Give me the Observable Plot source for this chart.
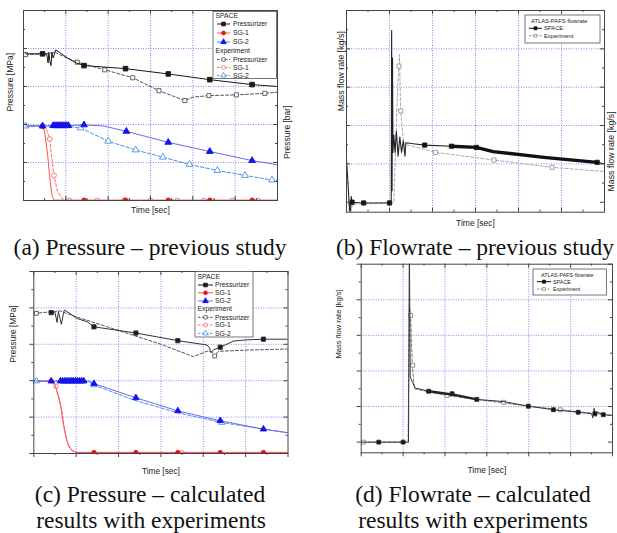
<!DOCTYPE html>
<html><head><meta charset="utf-8">
<script src="https://cdn.jsdelivr.net/npm/d3@7"></script>
<script src="https://cdn.jsdelivr.net/npm/@observablehq/plot@0.6"></script>
<style>
html,body{margin:0;padding:0;background:#fff;}
#root{position:relative;width:617px;height:533px;overflow:hidden;background:#fff;}
#root > svg{position:absolute;}
</style></head><body><div id="root"></div>
<script>
// ---------- shared ticks (no numeric labels in the source figure) ----------
const xMajor = [0, 1, 2, 3, 4, 5, 6];
const xMinor = [0.5, 1.5, 2.5, 3.5, 4.5, 5.5];
const xGrid = [1, 2, 3, 4, 5];
const yMajor = [0, 1, 2, 3, 4, 5];
const yMinor = [0.5, 1.5, 2.5, 3.5, 4.5];
const yGrid = [1, 2, 3, 4];

// ---------- text ----------
const captions = {
  a: ["(a) Pressure – previous study"],
  b: ["(b) Flowrate – previous study"],
  c: ["(c) Pressure – calculated", "results with experiments"],
  d: ["(d) Flowrate – calculated", "results with experiments"]
};
const pressureNames = ["Pressurizer", "SG-1", "SG-2"];
const flowNames = ["SPACE", "Experiment"];

// ---------- (a) pressure, previous study ----------
const aSpacePzr = [[0.05,3.86],[0.45,3.86],[0.55,3.85],[0.58,3.62],[0.6,3.9],[0.62,3.68],[0.65,3.55],[0.67,3.9],[0.7,3.75],[0.76,3.96],[0.85,3.9],[1.04,3.75],[1.25,3.62],[1.43,3.55],[2.41,3.47],[3.42,3.33],[4.4,3.18],[5.4,3.05],[6,3.0]];
const aSpacePzrM = [[0.45,3.86],[1.43,3.55],[2.41,3.47],[3.42,3.33],[4.4,3.18],[5.4,3.05]];
const aExpPzr = [[0.05,3.84],[0.5,3.86],[0.75,3.9],[1.0,3.76],[1.27,3.64],[1.92,3.44],[2.58,3.23],[3.2,2.89],[3.81,2.63],[4.0,2.72],[4.38,2.76],[5.03,2.78],[5.7,2.82],[6,2.85]];
const aExpPzrM = [[0.05,3.84],[1.27,3.64],[1.92,3.44],[2.58,3.23],[3.2,2.89],[3.81,2.63],[4.38,2.76],[5.03,2.78],[5.7,2.82]];
const aSpaceSG1 = [[0.05,1.96],[0.45,1.96],[0.5,1.8],[0.57,1.2],[0.63,0.5],[0.68,0.1],[0.72,0.01],[6,0.01]];
const aSpaceSG1M = [[0.45,1.96],[1.43,0.01],[2.41,0.01],[3.42,0.01],[4.4,0.01],[5.4,0.01]];
const aExpSG1 = [[0.45,1.95],[0.55,1.85],[0.62,1.62],[0.67,1.1],[0.72,0.66],[0.8,0.25],[0.92,0.04],[1.08,0.0],[6,0.0]];
const aExpSG1M = [[0.45,1.95],[0.62,1.62],[0.72,0.66],[1.08,0],[1.74,0],[2.37,0],[3.0,0],[3.63,0],[4.26,0],[4.93,0],[5.54,0]];
const aSpaceSG2 = [[0.05,1.96],[0.45,1.96],[1.07,1.97],[1.43,1.99],[1.9,1.96],[2.43,1.82],[3.42,1.53],[4.4,1.29],[5.4,1.05],[6,0.94]];
const aSpaceSG2M = [[0.45,1.96],[0.7,1.97],[0.74,1.97],[0.78,1.97],[0.82,1.97],[0.86,1.97],[0.9,1.97],[0.94,1.97],[0.98,1.97],[1.02,1.97],[1.06,1.97],[1.43,1.99],[2.43,1.82],[3.42,1.53],[4.4,1.29],[5.4,1.05]];
const aExpSG2 = [[0.05,1.96],[1.0,1.96],[1.35,1.91],[2.0,1.56],[2.65,1.33],[3.29,1.14],[3.92,0.95],[4.58,0.79],[5.23,0.66],[5.87,0.54],[6,0.53]];
const aExpSG2M = [[0.05,1.96],[1.35,1.91],[2.0,1.56],[2.65,1.33],[3.29,1.14],[3.92,0.95],[4.58,0.79],[5.23,0.66],[5.87,0.54]];

// ---------- (b) flowrate, previous study ----------
const bSpace = [[0,1.1],[0.03,0.6],[0.06,0.0],[0.09,-0.4],[0.11,0.15],[0.13,0.0],[0.4,-0.02],[1.0,-0.02],[1.04,0.0],[1.05,4.48],[1.06,0.3],[1.07,3.76],[1.08,1.3],[1.1,1.75],[1.13,1.3],[1.16,1.85],[1.2,1.2],[1.24,1.7],[1.28,1.3],[1.32,1.6],[1.36,1.2],[1.38,1.55],[1.6,1.52],[1.82,1.49],[2.44,1.46],[3.02,1.43],[3.41,1.32],[4.59,1.17],[5.83,1.04],[6,1.0]];
const bSpaceM = [[0.13,0],[0.4,-0.02],[1.0,-0.02],[1.82,1.49],[2.44,1.46],[3.02,1.43],[5.83,1.04]];
const bExp = [[0.05,-0.2],[0.1,-0.05],[1.1,0],[1.19,3.0],[1.22,3.55],[1.23,3.85],[1.26,2.38],[1.33,1.52],[2.07,1.3],[3.43,1.1],[4.78,0.91],[6,0.8]];
const bExpM = [[0.1,-0.05],[1.22,3.55],[1.26,2.38],[2.07,1.3],[3.43,1.1],[4.78,0.91]];

// ---------- (c) pressure, calculated vs experiment ----------
const cSpacePzr = [[0.41,3.87],[0.5,3.88],[0.55,3.6],[0.58,3.9],[0.62,3.7],[0.65,3.55],[0.7,3.85],[0.72,3.94],[0.85,3.85],[1.02,3.71],[1.26,3.62],[1.42,3.48],[2.41,3.31],[3.4,3.1],[4.09,2.98],[4.15,2.9],[4.18,2.77],[4.25,2.85],[4.4,2.92],[4.72,3.09],[5.0,3.12],[5.42,3.14],[6,3.14]];
const cSpacePzrM = [[0.41,3.87],[1.42,3.48],[2.41,3.31],[3.4,3.1],[4.4,2.92],[5.42,3.14]];
const cExpPzr = [[0,3.85],[0.39,3.89],[0.6,3.92],[1.02,3.75],[2.0,3.38],[3.0,3.0],[3.77,2.66],[4.09,2.81],[4.2,2.8],[4.27,2.68],[4.35,2.8],[4.4,2.81],[5.0,2.84],[6,2.87]];
const cExpPzrM = [[0.06,3.85],[4.27,2.68]];
const cSpaceSG1 = [[0,1.99],[0.41,1.99],[0.5,1.9],[0.57,1.6],[0.63,1.33],[0.7,0.8],[0.75,0.5],[0.82,0.2],[0.9,0.09],[1.02,0.03],[6,0.03]];
const cSpaceSG1M = [[0.41,1.99],[1.42,0.03],[2.41,0.03],[3.4,0.03],[4.4,0.03],[5.42,0.03]];
const cExpSG1 = [[0,1.99],[0.45,1.97],[0.52,1.85],[0.6,1.5],[0.66,1.2],[0.72,0.7],[0.78,0.35],[0.88,0.1],[1.0,0.02],[6,0.02]];
const cExpSG1M = [[0.52,1.85],[3.5,0.02]];
const cSpaceSG2 = [[0,1.99],[1.3,1.99],[1.42,1.92],[2.41,1.53],[3.4,1.17],[4.4,0.9],[5.42,0.67],[6,0.57]];
const cSpaceSG2M = [[0.41,1.99],[0.63,1.99],[0.68,1.99],[0.73,1.99],[0.78,1.99],[0.83,1.99],[0.88,1.99],[0.93,1.99],[0.98,1.99],[1.03,1.99],[1.08,1.99],[1.13,1.99],[1.18,1.99],[1.42,1.92],[2.41,1.53],[3.4,1.17],[4.4,0.9],[5.42,0.67]];
const cExpSG2 = [[0,1.99],[1.3,1.98],[1.42,1.88],[2.36,1.47],[3.4,1.12],[4.44,0.85],[5.42,0.67],[6,0.57]];
const cExpSG2M = [[0.06,1.99],[1.42,1.88],[4.44,0.85]];

// ---------- (d) flowrate, calculated vs experiment ----------
const dSpace = [[0,0],[1.0,0],[1.13,0],[1.15,5.6],[1.17,1.83],[1.29,1.52],[1.61,1.43],[2.17,1.34],[2.76,1.2],[3.4,1.14],[3.99,1.01],[4.59,0.91],[5.18,0.84],[5.5,0.8],[5.53,0.68],[5.56,0.95],[5.6,0.72],[5.63,0.85],[5.78,0.77],[6,0.75]];
const dSpaceM = [[0.42,0],[1.0,0],[1.61,1.43],[2.17,1.36],[2.76,1.2],[3.99,1.01],[4.59,0.91],[5.18,0.84],[5.58,0.8],[5.78,0.77]];
const dExp = [[0.05,0],[1.12,0],[1.15,3.84],[1.18,3.56],[1.22,2.16],[1.27,1.5],[2.05,1.31],[3.4,1.1],[4.75,0.91],[6,0.75]];
const dExpM = [[0.05,0],[1.18,3.56],[1.23,2.16],[2.05,1.31],[3.4,1.12],[4.75,0.91]];

// ---------- styles ----------
const GRID = "#7a7aee", FRAME = "#444";
const C = {
  pzrS: "#1a1a1a", pzrE: "#555555",
  sg1S: "#f25555", sg1M: "#e81010", sg1E: "#ff6a6a",
  sg2S: "#6a6aee", sg2M: "#1414e6", sg2E: "#4a90e2",
  flowS: "#111111", flowE: "#8a8a8a"
};
const FONT = "Liberation Sans, Arial, sans-serif";
const P = d => d[0], Q = d => d[1];

function series(data, marks, {stroke, width = 1, dash = null, mdata, symbol, fill, mstroke, r = 2.6}) {
  const out = [Plot.line(data, {x: P, y: Q, stroke, strokeWidth: width, strokeDasharray: dash, clip: true})];
  if (mdata) out.push(Plot.dot(mdata, {x: P, y: Q, symbol, r, fill, stroke: mstroke || stroke, strokeWidth: 0.9, clip: true}));
  return out;
}

function panel(cfg) {
  const {left, top, width, height, mt, mr, mb, ml, yDomain, marks, xLabel, yLabel, rightLabel, outward} = cfg;
  const fh = height - mt - mb, fw = width - ml - mr;
  const tick = [];
  const maj = 4, mn = 2;
  // top & right: inward
  tick.push(Plot.ruleX(xMajor, {x: d => d, insetBottom: fh - maj, stroke: FRAME}));
  tick.push(Plot.ruleX(xMinor, {x: d => d, insetBottom: fh - mn, stroke: FRAME}));
  tick.push(Plot.ruleY(yMajor.filter(v => v >= yDomain[0]), {y: d => d, insetLeft: fw - maj, stroke: FRAME}));
  tick.push(Plot.ruleY(yMinor, {y: d => d, insetLeft: fw - mn, stroke: FRAME}));
  if (outward) {
    tick.push(Plot.ruleX(xMajor, {x: d => d, insetTop: fh, insetBottom: -maj, stroke: FRAME}));
    tick.push(Plot.ruleX(xMinor, {x: d => d, insetTop: fh, insetBottom: -mn, stroke: FRAME}));
    tick.push(Plot.ruleY(yMajor, {y: d => d, insetRight: fw, insetLeft: -maj, stroke: FRAME}));
    tick.push(Plot.ruleY(yMinor, {y: d => d, insetRight: fw, insetLeft: -mn, stroke: FRAME}));
  } else {
    tick.push(Plot.ruleX(xMajor, {x: d => d, insetTop: fh - maj, stroke: FRAME}));
    tick.push(Plot.ruleX(xMinor, {x: d => d, insetTop: fh - mn, stroke: FRAME}));
    tick.push(Plot.ruleY(yMajor.filter(v => v >= yDomain[0]), {y: d => d, insetRight: fw - maj, stroke: FRAME}));
    tick.push(Plot.ruleY(yMinor, {y: d => d, insetRight: fw - mn, stroke: FRAME}));
  }
  const labels = [
    Plot.text([xLabel.text], {text: d => d, frameAnchor: "bottom", dy: xLabel.dy, fontSize: xLabel.size, fill: "#222"}),
    Plot.text([yLabel.text], {text: d => d, frameAnchor: "left", rotate: -90, dx: yLabel.dx, dy: yLabel.dy || 0, fontSize: yLabel.size, fill: "#222"})
  ];
  if (rightLabel) labels.push(Plot.text([rightLabel.text], {text: d => d, frameAnchor: "right", rotate: -90, dx: rightLabel.dx, dy: rightLabel.dy || 0, fontSize: rightLabel.size, fill: "#222"}));
  const svg = Plot.plot({
    width, height, marginTop: mt, marginRight: mr, marginBottom: mb, marginLeft: ml,
    x: {domain: [0, 6], axis: null},
    y: {domain: yDomain, axis: null},
    style: {background: "transparent", fontFamily: FONT, overflow: "visible"},
    marks: [
      Plot.ruleX(xGrid, {x: d => d, stroke: GRID, strokeWidth: 0.9, strokeDasharray: "1,1.5"}),
      Plot.ruleY(yGrid, {y: d => d, stroke: GRID, strokeWidth: 0.9, strokeDasharray: "1,1.5"}),
      ...marks,
      Plot.frame({stroke: FRAME, strokeWidth: 1}),
      ...tick,
      ...labels
    ]
  });
  svg.style.left = left + "px";
  svg.style.top = top + "px";
  document.getElementById("root").appendChild(svg);
}

// (a)
panel({left: 0, top: 0, width: 300, height: 230, mt: 10, mr: 23, mb: 30, ml: 23, yDomain: [0, 5],
  xLabel: {text: "Time [sec]", dy: 12, size: 8.5},
  yLabel: {text: "Pressure [MPa]", dx: -13, dy: 6, size: 8.5},
  rightLabel: {text: "Pressure [bar]", dx: 10, dy: 0, size: 8.5},
  marks: [
    ...series(aExpSG1, null, {stroke: C.sg1E, dash: "3,2", mdata: aExpSG1M, symbol: "circle", fill: "white", r: 2.4}),
    ...series(aSpaceSG1, null, {stroke: C.sg1S, mdata: aSpaceSG1M, symbol: "circle", fill: C.sg1M, mstroke: C.sg1M, r: 2.2}),
    ...series(aExpSG2, null, {stroke: C.sg2E, dash: "3.5,2", mdata: aExpSG2M, symbol: "triangle", fill: "white", r: 2.5}),
    ...series(aSpaceSG2, null, {stroke: C.sg2S, mdata: aSpaceSG2M, symbol: "triangle", fill: C.sg2M, mstroke: C.sg2M, r: 2.5}),
    ...series(aExpPzr, null, {stroke: C.pzrE, dash: "3,2", mdata: aExpPzrM, symbol: "square", fill: "white", r: 2.3}),
    ...series(aSpacePzr, null, {stroke: C.pzrS, mdata: aSpacePzrM, symbol: "square", fill: C.pzrS, r: 2.6})
  ]});

// (b)
panel({left: 300, top: 0, width: 317, height: 235, mt: 10, mr: 13, mb: 23.3, ml: 46, yDomain: [-0.26, 5],
  xLabel: {text: "Time [sec]", dy: 14, size: 8.5},
  yLabel: {text: "Mass flow rate [kg/s]", dx: -5, dy: 0, size: 8.8},
  rightLabel: {text: "Mass flow rate [kg/s]", dx: 7, dy: 0, size: 8.8},
  marks: [
    ...series(bExp, null, {stroke: "#aaaaaa", dash: "3,2", mdata: bExpM, symbol: "square", fill: "white", mstroke: "#999", r: 2.3}),
    ...series(bSpace, null, {stroke: "#222", width: 1.1, mdata: bSpaceM, symbol: "square", fill: C.flowS, r: 2.4}),
    Plot.line(bSpace.filter(d => d[0] >= 2.3 && d[0] <= 5.9), {x: P, y: Q, stroke: "#111", strokeWidth: 3.4})
  ]});

// (c)
panel({left: 0, top: 262, width: 300, height: 220, mt: 9, mr: 12.5, mb: 29, ml: 33.3, yDomain: [0, 5], outward: true,
  xLabel: {text: "Time [sec]", dy: 20, size: 8.3},
  yLabel: {text: "Pressure [MPa]", dx: -20, dy: 0, size: 8.3},
  marks: [
    ...series(cExpSG1, null, {stroke: C.sg1E, dash: "3,2", mdata: cExpSG1M, symbol: "circle", fill: "white", r: 2.3}),
    ...series(cSpaceSG1, null, {stroke: C.sg1S, mdata: cSpaceSG1M, symbol: "circle", fill: C.sg1M, mstroke: C.sg1M, r: 2.1}),
    ...series(cExpSG2, null, {stroke: C.sg2E, dash: "3.5,2", mdata: cExpSG2M, symbol: "triangle", fill: "white", r: 2.3}),
    ...series(cSpaceSG2, null, {stroke: C.sg2S, mdata: cSpaceSG2M, symbol: "triangle", fill: C.sg2M, mstroke: C.sg2M, r: 2.4}),
    ...series(cExpPzr, null, {stroke: C.pzrE, dash: "3,2", mdata: cExpPzrM, symbol: "square", fill: "white", r: 2.2}),
    ...series(cSpacePzr, null, {stroke: "#333", mdata: cSpacePzrM, symbol: "square", fill: C.pzrS, r: 2.4})
  ]});

// (d)
panel({left: 300, top: 262, width: 317, height: 220, mt: 1.7, mr: 5, mb: 29.7, ml: 60.7, yDomain: [-0.3, 5], outward: true,
  xLabel: {text: "Time [sec]", dy: 20, size: 8.5},
  yLabel: {text: "Mass flow rate [kg/s]", dx: -22.4, dy: 0, size: 7.6},
  marks: [
    ...series(dExp, null, {stroke: "#777", dash: "3,2", mdata: dExpM, symbol: "square", fill: "white", mstroke: "#888", r: 2.2}),
    ...series(dSpace, null, {stroke: "#333", width: 1, mdata: dSpaceM, symbol: "square", fill: C.flowS, r: 2.2}),
    Plot.line(dSpace.filter(d => d[0] >= 1.3 && d[0] <= 2.9), {x: P, y: Q, stroke: "#222", strokeWidth: 2.4})
  ]});

// ---------- overlay: legends and captions ----------
const ov = d3.select("#root").append("svg")
  .attr("width", 617).attr("height", 533)
  .style("left", "0px").style("top", "0px").style("pointer-events", "none");

function legend(box, rows, fs) {
  const g = ov.append("g").attr("font-family", FONT).attr("font-size", fs).attr("fill", "#222");
  g.append("rect").attr("x", box.x).attr("y", box.y).attr("width", box.w).attr("height", box.h)
    .attr("fill", "white").attr("stroke", "#555").attr("stroke-width", 0.8);
  rows.forEach(r => {
    if (r.header) {
      g.append("text").attr("x", r.x).attr("y", r.y + fs * 0.36).text(r.header);
      return;
    }
    g.append("line").attr("x1", r.x1).attr("x2", r.x2).attr("y1", r.y).attr("y2", r.y)
      .attr("stroke", r.stroke).attr("stroke-width", 1).attr("stroke-dasharray", r.dash || null);
    const sym = {square: d3.symbolSquare, circle: d3.symbolCircle, triangle: d3.symbolTriangle}[r.symbol];
    g.append("path").attr("d", d3.symbol(sym, Math.PI * r.r * r.r)())
      .attr("transform", `translate(${(r.x1 + r.x2) / 2},${r.y})`)
      .attr("fill", r.fill).attr("stroke", r.mstroke || r.stroke).attr("stroke-width", 0.8);
    g.append("text").attr("x", r.tx).attr("y", r.y + fs * 0.36).text(r.label);
  });
}

function pressureLegend(box, ys, x1, x2, tx, fs) {
  legend(box, [
    {header: "SPACE", x: box.x + 2.5, y: ys[0]},
    {label: pressureNames[0], y: ys[1], x1, x2, tx, stroke: C.pzrS, symbol: "square", fill: C.pzrS, r: 2.1},
    {label: pressureNames[1], y: ys[2], x1, x2, tx, stroke: C.sg1S, symbol: "circle", fill: C.sg1M, mstroke: C.sg1M, r: 1.9},
    {label: pressureNames[2], y: ys[3], x1, x2, tx, stroke: C.sg2S, symbol: "triangle", fill: C.sg2M, mstroke: C.sg2M, r: 2.1},
    {header: "Experiment", x: box.x + 2.5, y: ys[4]},
    {label: pressureNames[0], y: ys[5], x1, x2, tx, stroke: C.pzrE, dash: "2.5,1.5", symbol: "square", fill: "white", r: 1.9},
    {label: pressureNames[1], y: ys[6], x1, x2, tx, stroke: C.sg1E, dash: "2.5,1.5", symbol: "circle", fill: "white", r: 1.9},
    {label: pressureNames[2], y: ys[7], x1, x2, tx, stroke: C.sg2E, dash: "2.5,1.5", symbol: "triangle", fill: "white", r: 2.0}
  ], fs);
}

pressureLegend({x: 213, y: 11.5, w: 63.5, h: 67}, [15.5, 24, 33, 42, 51, 59.5, 67.5, 75.5], 217, 230, 233, 6.8);
pressureLegend({x: 195, y: 271.5, w: 58, h: 65.5}, [276.7, 285, 292.8, 301, 309, 317.3, 325, 333.3], 198, 213, 215, 6.8);

function flowLegend(box, ys, x1, x2, tx, fs, titleX) {
  legend(box, [
    {header: "ATLAS-PAFS flowrate", x: titleX, y: ys[0]},
    {label: flowNames[0], y: ys[1], x1, x2, tx, stroke: C.flowS, symbol: "square", fill: C.flowS, r: 1.7},
    {label: flowNames[1], y: ys[2], x1, x2, tx, stroke: C.flowE, dash: "2,1.5", symbol: "square", fill: "white", r: 1.6}
  ], fs);
}
flowLegend({x: 525, y: 15, w: 75, h: 28}, [21, 28.3, 35.7], 529, 542, 544, 5.8, 531);
flowLegend({x: 533, y: 269, w: 73.5, h: 26}, [275, 281.7, 289], 537, 551, 553, 5.4, 541);

const cap = ov.append("g").attr("font-family", "Liberation Serif, Times New Roman, serif")
  .attr("font-size", 23.5).attr("fill", "#111").attr("text-anchor", "middle");
cap.append("text").attr("x", 150).attr("y", 255).text(captions.a[0]);
cap.append("text").attr("x", 475).attr("y", 255).text(captions.b[0]);
cap.append("text").attr("x", 150).attr("y", 501.5).text(captions.c[0]);
cap.append("text").attr("x", 151).attr("y", 528).text(captions.c[1]);
cap.append("text").attr("x", 473).attr("y", 501.5).text(captions.d[0]);
cap.append("text").attr("x", 473).attr("y", 528).text(captions.d[1]);
</script></body></html>
